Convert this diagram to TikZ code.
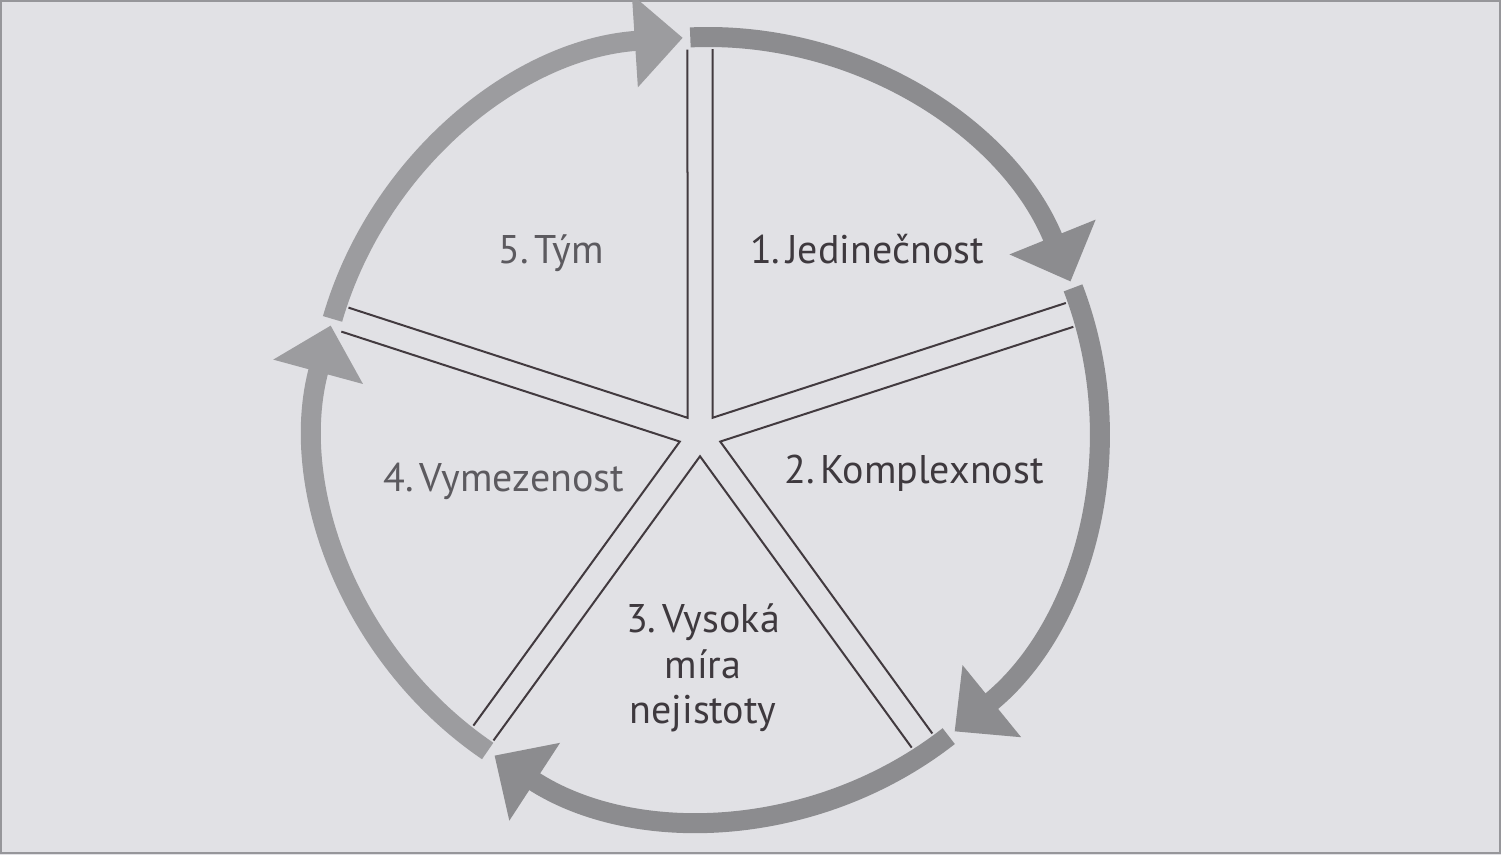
\documentclass[tikz,border=0pt]{standalone}
\usepackage{fontspec}
\setmainfont{PT Sans}
\usetikzlibrary{arrows.meta,calc,intersections}
\definecolor{bg}{RGB}{225,225,229}
\definecolor{bgl}{RGB}{205,205,209}
\definecolor{bandD}{RGB}{140,140,143}
\definecolor{bandL}{RGB}{156,156,159}
\definecolor{ink}{RGB}{66,58,63}
\definecolor{txtD}{RGB}{62,57,62}
\definecolor{txtL}{RGB}{92,90,95}
\definecolor{frame}{RGB}{150,150,154}
\pgfdeclarehorizontalshading{paper}{100bp}{color(0bp)=(bgl); color(22bp)=(bg); color(100bp)=(bg)}
\newcommand{\gp}{\hspace{0.14em}}
\begin{document}
\begin{tikzpicture}[x=1pt,y=1pt,
  ring/.style={line width=20pt, -{Triangle[width=90pt,length=48pt]}},
  spokeline/.style={draw=ink, line width=2pt},
  lbl/.style={font=\fontsize{40}{46}\selectfont, inner sep=0pt, anchor=base}]
\path[use as bounding box, shading=paper] (0,0) rectangle (1501,854);
\draw[frame, line width=2pt] (1,1) rectangle (1500,853);
\coordinate (O) at (708,426);
\coordinate (C) at (700,419);
% arcs
\draw[ring, draw=bandD] ($(O)+(92.6:391)$) arc[start angle=92.6, end angle=22, radius=391];
\draw[ring, draw=bandD] ($(O)+(21:391)$) arc[start angle=21, end angle=-50.9, radius=391];
\draw[ring, draw=bandD] ($(O)+(-52:391)$) arc[start angle=-52, end angle=-123.1, radius=391];
\draw[ring, draw=bandL] ($(O)+(-124.3:391)$) arc[start angle=-124.3, end angle=-195.2, radius=391];
\draw[ring, draw=bandL] ($(O)+(163.8:391)$) arc[start angle=163.8, end angle=93.7, radius=391];
% spokes
\path[name path=inner] (O) circle[radius=379];
\foreach \a [count=\i] in {90,18,-54,-126,162} {
  \coordinate (V\i) at ($(C)+(\a-36:21.27)$);
  \path[name path=La\i] (V\i) -- ++(\a:520);
  \path[name path=Lb\i] (V\i) -- ++(\a-72:520);
  \path[name intersections={of=inner and La\i, by={Ea\i}}];
  \path[name intersections={of=inner and Lb\i, by={Eb\i}}];
  \draw[spokeline, line join=miter] (Ea\i) -- (V\i) -- (Eb\i);
}
% labels
\node[lbl, text=txtL] (t5) at (551,590) {5.\gp Tým};
\node[lbl, text=txtD] (t1) at (867,590) {1.\gp Jedinečnost};
\node[lbl, text=txtD] (t2) at (914,370) {2.\gp Komplexnost};
\node[lbl, text=txtL] (t4) at (504,362) {4.\gp Vymezenost};
\node[lbl, text=txtD, align=center] (t3) at (703,130) {3.\gp Vysoká\\míra\\nejistoty};
\end{tikzpicture}
\end{document}
